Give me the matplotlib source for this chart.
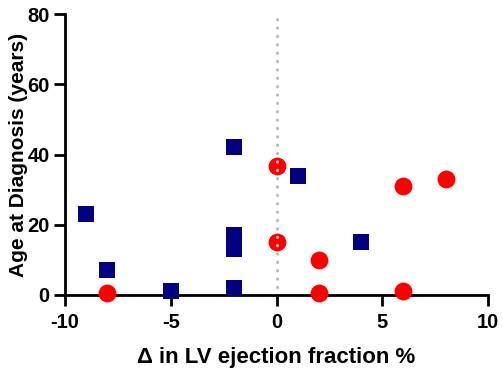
import matplotlib
matplotlib.use('Agg')
import matplotlib.pyplot as plt

plt.rcParams['font.family'] = ['Liberation Sans', 'DejaVu Sans']
plt.rcParams['font.weight'] = 'bold'
plt.rcParams['axes.unicode_minus'] = False

# squares (navy)
sq_x = [-9, -8, -5, -2, -2, -2, -2, 1, 4]
sq_y = [23, 7, 1, 42, 17, 13, 2, 34, 15]
# circles (red)
ci_x = [-8, 0, 0, 2, 2, 6, 6, 8]
ci_y = [0.5, 36.7, 15, 10, 0.5, 31, 1, 33]

fig = plt.figure(figsize=(5.03, 3.74), dpi=100)
ax = fig.add_axes([65 / 503, 1 - 295 / 374, (488 - 65) / 503, (295 - 14) / 374])

ax.scatter(sq_x, sq_y, marker='s', s=130, color='#000080', zorder=3, linewidths=0, clip_on=False)
ax.scatter(ci_x, ci_y, marker='o', s=165, color='#ff0000', zorder=4, linewidths=0, clip_on=False)
ax.plot([0, 0], [2.2, 80], color='#bdbdbd', lw=2.4, ls=(0, (0.01, 2.5)),
        dash_capstyle='round', zorder=5)

ax.set_xlim(-10, 10)
ax.set_ylim(0, 80)
ax.set_xticks([-10, -5, 0, 5, 10])
ax.set_yticks([0, 20, 40, 60, 80])
ax.spines['top'].set_visible(False)
ax.spines['right'].set_visible(False)
for s in ['left', 'bottom']:
    ax.spines[s].set_linewidth(2)
ax.tick_params(width=2, length=8, labelsize=14.5, pad=3)
ax.tick_params(axis='x', pad=5)
for lab in ax.get_xticklabels() + ax.get_yticklabels():
    lab.set_fontweight('bold')

ax.set_xlabel('Δ in LV ejection fraction %', fontsize=16, fontweight='bold', va='center')
ax.set_ylabel('Age at Diagnosis (years)', fontsize=15, fontweight='bold', va='center')
ax.xaxis.set_label_coords(0.5, (295 - 358) / 281)
ax.yaxis.set_label_coords((19 - 65) / 423, 0.5)

fig.savefig('out.png', dpi=100)
